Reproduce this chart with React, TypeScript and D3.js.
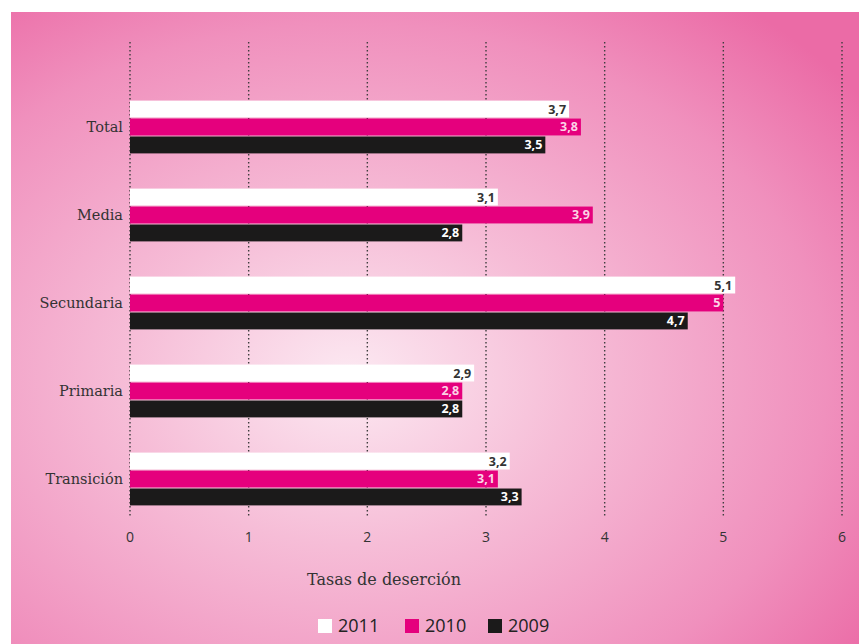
import React from "react";
import * as d3 from "d3";

const categories = ["Total", "Media", "Secundaria", "Primaria", "Transición"];
const seriesNames = ["2011", "2010", "2009"];
const values2011 = [3.7, 3.1, 5.1, 2.9, 3.2];
const values2010 = [3.8, 3.9, 5, 2.8, 3.1];
const values2009 = [3.5, 2.8, 4.7, 2.8, 3.3];
const ticks = [0, 1, 2, 3, 4, 5, 6];
const seriesColors = ["#ffffff", "#e5007d", "#1b1a1a"];
const labelColors = ["#333333", "#fbd3e6", "#ffffff"];

const W = 859;
const H = 644;

export default function App() {
  const seriesValues = [values2011, values2010, values2009];
  const x = d3.scaleLinear().domain([0, 6]).range([130, 842]);
  const y0 = d3.scaleBand().domain(categories).range([83, 523]).paddingInner(0.4).paddingOuter(0.2);
  const y1 = d3.scaleBand().domain(seriesNames).range([0, y0.bandwidth()]).paddingInner(0.06);
  const fmt = (v: number) => String(v).replace(".", ",");

  const legendX = [318, 405, 488];

  return (
    <svg width={W} height={H} style={{ position: "absolute", left: 0, top: 0, display: "block" }}>
      <defs>
        <radialGradient id="bg" cx="0.4" cy="0.58" r="0.75" gradientUnits="objectBoundingBox">
          <stop offset="0" stopColor="#fce9f2" />
          <stop offset="0.35" stopColor="#f6bdd7" />
          <stop offset="0.75" stopColor="#f090bd" />
          <stop offset="1" stopColor="#eb6ba6" />
        </radialGradient>
      </defs>
      <rect x={0} y={0} width={W} height={H} fill="#ffffff" />
      <rect x={11} y={12} width={W - 11} height={H - 12} fill="url(#bg)" />

      {ticks.map((t) => (
        <g key={t}>
          <line x1={x(t)} x2={x(t)} y1={42} y2={517} stroke="#3e3e3e" strokeWidth={1.4} strokeDasharray="1.4,2.6" />
          <text x={x(t)} y={542} textAnchor="middle" fontFamily="'Open Sans', sans-serif" fontSize={14} fill="#333">
            {t}
          </text>
        </g>
      ))}

      {categories.map((c, i) => (
        <g key={c} transform={`translate(0,${y0(c)})`}>
          {seriesNames.map((s, j) => {
            const v = seriesValues[j][i];
            const yy = y1(s)!;
            const h = y1.bandwidth();
            return (
              <g key={s}>
                <rect x={x(0)} y={yy} width={x(v) - x(0)} height={h} fill={seriesColors[j]} />
                <text
                  x={x(v) - 3}
                  y={yy + h / 2}
                  dy="0.36em"
                  textAnchor="end"
                  fontFamily="'Open Sans', sans-serif"
                  fontWeight={700}
                  fontSize={12.5}
                  fill={labelColors[j]}
                >
                  {fmt(v)}
                </text>
              </g>
            );
          })}
          <text
            x={123}
            y={y0.bandwidth() / 2}
            dy="0.35em"
            textAnchor="end"
            fontFamily="'DejaVu Serif', serif"
            fontSize={14.5}
            fill="#333"
          >
            {c}
          </text>
        </g>
      ))}

      <text x={384} y={585} textAnchor="middle" fontFamily="'DejaVu Serif', serif" fontSize={16} fill="#333">
        Tasas de deserción
      </text>

      {seriesNames.map((s, j) => (
        <g key={s} transform={`translate(${legendX[j]},619)`}>
          <rect x={0} y={0} width={14} height={14} fill={seriesColors[j]} />
          <text x={20} y={7} dy="0.36em" fontFamily="'Open Sans', sans-serif" fontSize={18} fill="#222">
            {s}
          </text>
        </g>
      ))}
    </svg>
  );
}
